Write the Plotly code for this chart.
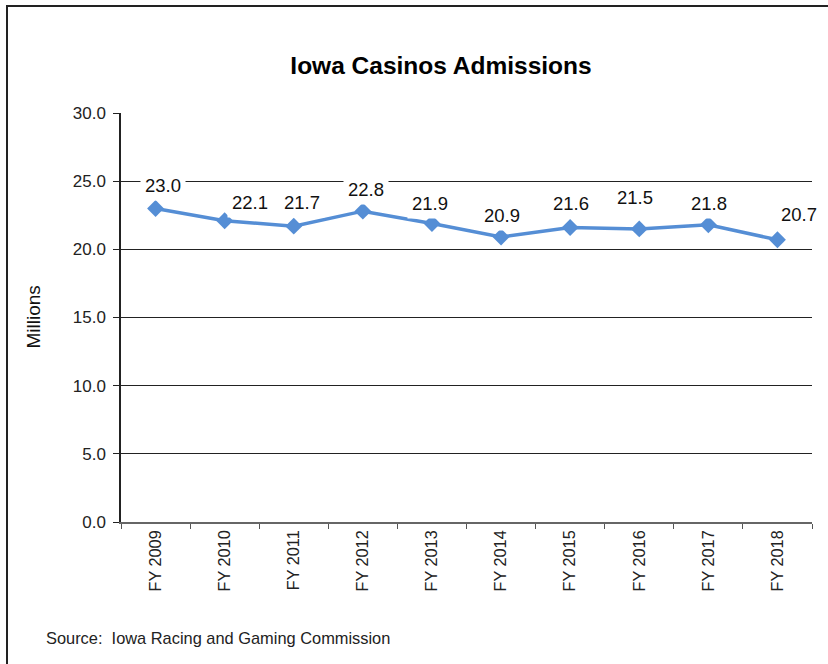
import plotly.graph_objects as go

categories = ["FY 2009", "FY 2010", "FY 2011", "FY 2012", "FY 2013",
              "FY 2014", "FY 2015", "FY 2016", "FY 2017", "FY 2018"]
admissions = [23.0, 22.1, 21.7, 22.8, 21.9, 20.9, 21.6, 21.5, 21.8, 20.7]
label_texts = ["23.0", "22.1", "21.7", "22.8", "21.9", "20.9", "21.6", "21.5", "21.8", "20.7"]
label_dx = [7, 25, 8, 3, -2, 1, 1, -4, 1, 22]
label_dy = [23, 18, 24, 22, 20, 22, 24, 31, 21, 25]
y_ticks = [0, 5, 10, 15, 20, 25, 30]

FONT = "Liberation Sans, Arial, sans-serif"
W, H = 828, 664
L, R, T, B = 121, 16, 113, 142
PW, PH = W - L - R, H - T - B

fig = go.Figure()
fig.add_trace(go.Scatter(
    x=categories, y=admissions, mode="lines+markers",
    line=dict(color="#558ED5", width=3.5),
    marker=dict(symbol="diamond", size=13, color="#558ED5"),
    hoverinfo="x+y", showlegend=False,
))

annotations = []
for c, v, t, dx, dy in zip(categories, admissions, label_texts, label_dx, label_dy):
    annotations.append(dict(
        x=c, y=v, xref="x", yref="y", text=t, showarrow=False,
        xshift=dx, yshift=dy, xanchor="center", yanchor="middle",
        font=dict(family=FONT, size=18.5, color="#111"),
        bgcolor="white", borderpad=4,
    ))

annotations.append(dict(
    x=0, y=0.5, xref="paper", yref="paper", xshift=-88, text="Millions",
    textangle=-90, showarrow=False, xanchor="center", yanchor="middle",
    font=dict(family=FONT, size=19, color="#111"),
))
annotations.append(dict(
    x=0, y=0, xref="paper", yref="paper", xshift=-77, yshift=-116,
    text="Source:  Iowa Racing and Gaming Commission", showarrow=False,
    xanchor="left", yanchor="middle",
    font=dict(family=FONT, size=16.4, color="#222"),
))

fig.update_layout(
    width=W, height=H,
    margin=dict(l=L, r=R, t=T, b=B),
    paper_bgcolor="white", plot_bgcolor="white",
    title=dict(text="<b>Iowa Casinos Admissions</b>", x=441 / W, xref="container",
               xanchor="center", y=1 - 65 / H, yref="container", yanchor="middle",
               font=dict(family=FONT, size=24.5, color="#000")),
    annotations=annotations,
    shapes=[dict(type="rect", xref="paper", yref="paper",
                 x0=(7 - L) / PW, x1=(840 - L) / PW,
                 y0=(T + PH - 680) / PH, y1=(T + PH - 6) / PH,
                 line=dict(color="#222", width=2), fillcolor="rgba(0,0,0,0)",
                 layer="below")],
)

fig.update_xaxes(
    type="category", range=[-0.5, len(categories) - 0.5],
    tickson="boundaries", ticks="outside", ticklen=5, tickcolor="#555",
    tickangle=-90, showline=True, linecolor="#666", linewidth=1.5,
    showgrid=False, zeroline=False,
    tickfont=dict(family=FONT, size=16.3, color="#222"),
)
fig.update_yaxes(
    range=[0, 30], tickvals=y_ticks, tickformat=".1f",
    ticks="outside", ticklen=6, tickcolor="#222", ticklabelstandoff=4,
    showline=True, linecolor="#222", linewidth=1.5,
    showgrid=True, gridcolor="#222", gridwidth=1, zeroline=False,
    tickfont=dict(family=FONT, size=17, color="#222"),
)

fig.write_html("out.html")
